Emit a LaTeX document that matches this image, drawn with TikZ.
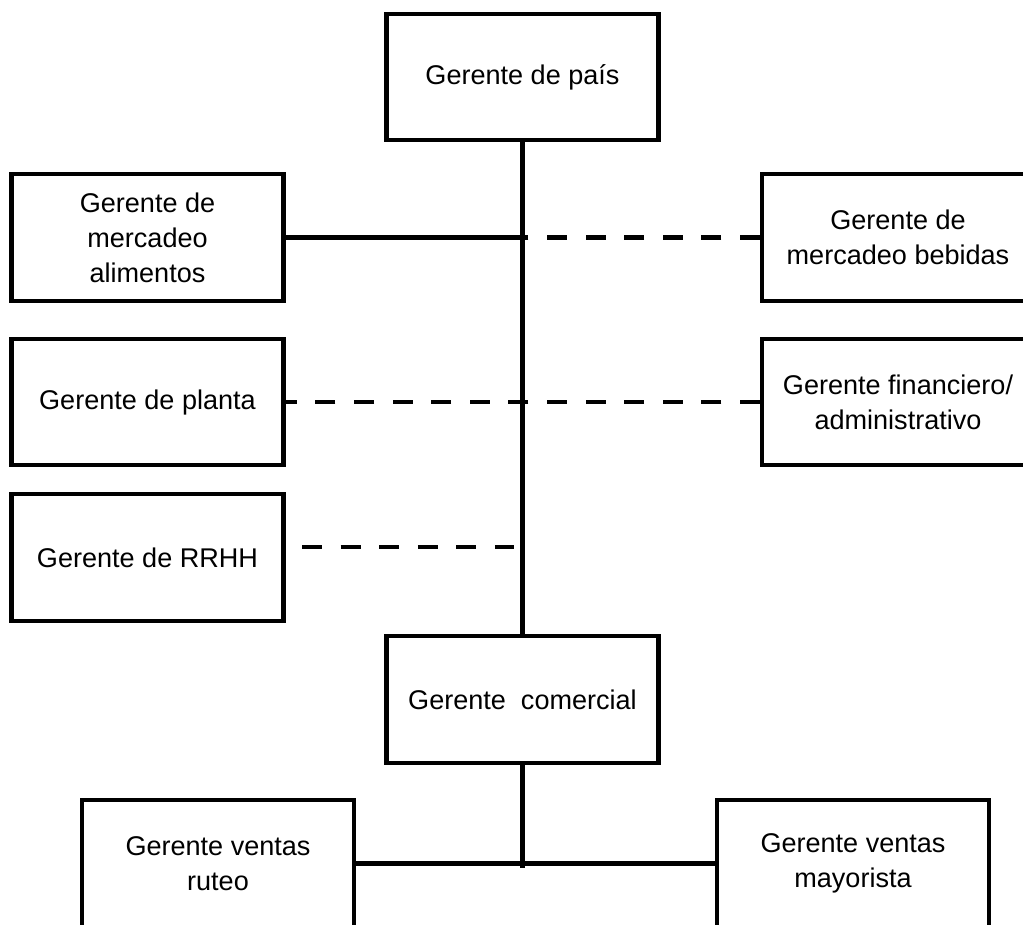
\documentclass[tikz,border=0pt]{standalone}
\usepackage{fontspec}
\setmainfont{Liberation Sans}
\begin{document}
\begin{tikzpicture}[x=0.02cm,y=-0.02cm,
  box/.style={draw=black,line width=2.4pt,fill=white,minimum width=5.44cm,minimum height=2.53cm,
    align=center,inner sep=0pt,font=\fontsize{15.4}{19.9}\selectfont},
  link/.style={draw=black,line width=2.4pt},
  dashlink/.style={link,dash pattern=on 0.4cm off 0.372cm}]
  \useasboundingbox (0,0) rectangle (1023,924);
  \clip (0,0) rectangle (1023,924);

  % boxes
  \node[box] (pais) at (522.5,77) {Gerente de país};
  \node[box] (alim) at (147.5,237.5) {Gerente de\\mercadeo\\alimentos};
  \node[box] (beb) at (898,237.5) {Gerente de\\mercadeo bebidas};
  \node[box] (planta) at (147.5,402) {Gerente de planta};
  \node[box] (fin) at (898,402) {Gerente financiero/\\administrativo};
  \node[box] (rrhh) at (147.5,557.5) {Gerente de RRHH};
  \node[box] (com) at (522.5,699.5) {Gerente\ \ comercial};
  \node[box] (rut) at (218,863.5) {Gerente ventas\\ruteo};
  \node[box] (may) at (853,863.5) {Gerente ventas\\mayorista};

  % free ends
  \coordinate (rA) at (302,547);
  \coordinate (rB) at (514,547);
  \coordinate (tail) at (522.5,868);

  % main spine
  \draw[link] (pais.south) -- (com.north);
  \draw[link] (com.south) -- (tail);

  % staff links
  \draw[link] (alim.east) -- (alim.east -| pais.south);
  \draw[dashlink] (beb.west) -- (beb.west -| pais.south);
  \draw[dashlink] (fin.west) -- (planta.east);
  \draw[dashlink] (rA) -- (rB);

  % sales managers
  \draw[link] (rut.east) -- (may.west);
\end{tikzpicture}
\end{document}
